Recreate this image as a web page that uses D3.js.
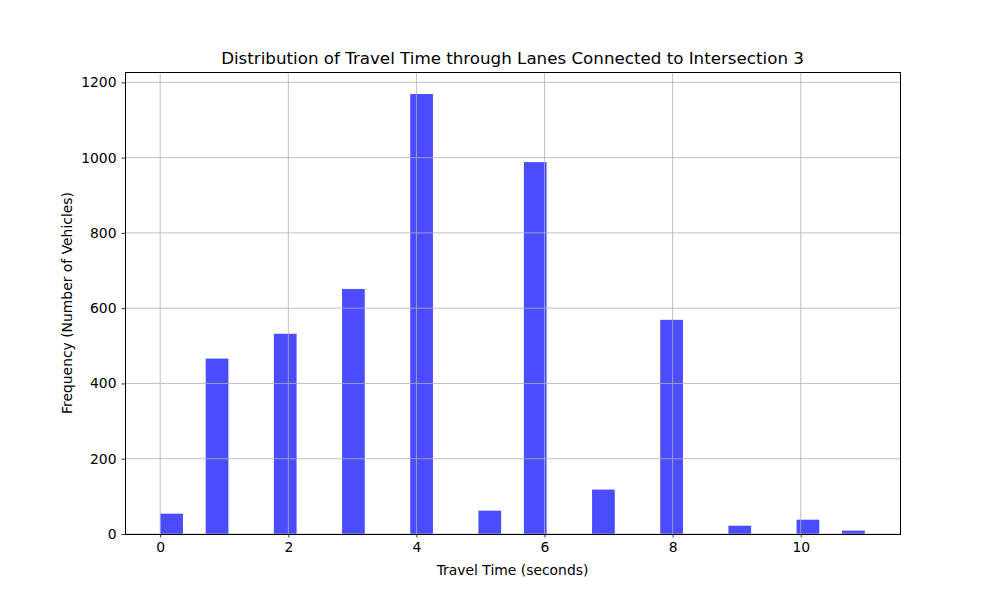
<!DOCTYPE html>
<html>
<head>
<meta charset="utf-8">
<script src="https://cdn.jsdelivr.net/npm/d3@7"></script>
<style>
  body { margin: 0; background: #fff; }
  text { font-family: "DejaVu Sans", sans-serif; fill: #000; }
</style>
</head>
<body>
<svg id="chart" width="1000" height="600"></svg>
<script>
// Travel times (seconds) and how many vehicles took each
const travelTimes = [0, 1, 2, 3, 4, 5, 6, 7, 8, 9, 10, 11];
const counts = [54, 466, 532, 651, 1169, 62, 988, 118, 569, 22, 38, 9];
const binCount = 31;
const xTicks = [0, 2, 4, 6, 8, 10];
const yTicks = [0, 200, 400, 600, 800, 1000, 1200];

const margin = { top: 72, right: 100, bottom: 66, left: 125 };
const width = 1000, height = 600;
const innerW = width - margin.left - margin.right;
const innerH = height - margin.top - margin.bottom;

const svg = d3.select("#chart");
const g = svg.append("g").attr("transform", `translate(${margin.left},${margin.top})`);

// Build histogram bins like matplotlib's hist
const lo = d3.min(travelTimes), hi = d3.max(travelTimes);
const binW = (hi - lo) / binCount;
const bins = d3.range(binCount).map(i => ({ x0: lo + i * binW, x1: lo + (i + 1) * binW, n: 0 }));
travelTimes.forEach((t, i) => {
    let k = Math.floor((t - lo) / binW);
    if (k >= binCount) k = binCount - 1;
    bins[k].n += counts[i];
});

const pad = (hi - lo) * 0.05;
const x = d3.scaleLinear().domain([lo - pad, hi + pad]).range([0, innerW]);
const yMax = d3.max(bins, d => d.n) * 1.05;
const y = d3.scaleLinear().domain([0, yMax]).range([innerH, 0]);

// Bars
g.append("g").selectAll("rect")
    .data(bins.filter(d => d.n > 0))
    .join("rect")
    .attr("x", d => x(d.x0))
    .attr("width", d => x(d.x1) - x(d.x0))
    .attr("y", d => y(d.n))
    .attr("height", d => y(0) - y(d.n))
    .attr("fill", "blue")
    .attr("fill-opacity", 0.7);

// Grid lines on top of the bars
const grid = g.append("g").attr("stroke", "#b0b0b0").attr("stroke-width", 0.8);
grid.selectAll(".gx").data(xTicks).join("line")
    .attr("x1", d => x(d)).attr("x2", d => x(d))
    .attr("y1", 0).attr("y2", innerH);
grid.selectAll(".gy").data(yTicks).join("line")
    .attr("x1", 0).attr("x2", innerW)
    .attr("y1", d => y(d)).attr("y2", d => y(d));

// Axes
const xAxis = g.append("g")
    .attr("transform", `translate(0,${innerH})`)
    .call(d3.axisBottom(x).tickValues(xTicks).tickSize(3.5).tickPadding(5).tickSizeOuter(0));
const yAxis = g.append("g")
    .call(d3.axisLeft(y).tickValues(yTicks).tickFormat(d3.format("d"))
        .tickSize(3.5).tickPadding(5).tickSizeOuter(0));
[xAxis, yAxis].forEach(a => {
    a.select(".domain").remove();
    a.selectAll("line").attr("stroke", "#000").attr("stroke-width", 0.8);
    a.selectAll("text").style("font-size", "13.9px").attr("fill", "#000");
});

// Frame
g.append("rect")
    .attr("width", innerW).attr("height", innerH)
    .attr("fill", "none").attr("stroke", "#000").attr("stroke-width", 1)
    .attr("shape-rendering", "crispEdges");

// Title and labels
svg.append("text")
    .attr("x", margin.left + innerW / 2).attr("y", margin.top - 8)
    .attr("text-anchor", "middle").style("font-size", "16.7px")
    .text("Distribution of Travel Time through Lanes Connected to Intersection 3");

svg.append("text")
    .attr("x", margin.left + innerW / 2).attr("y", 575)
    .attr("text-anchor", "middle").style("font-size", "13.9px")
    .text("Travel Time (seconds)");

svg.append("text")
    .attr("transform", `translate(72,${margin.top + innerH / 2}) rotate(-90)`)
    .attr("text-anchor", "middle").style("font-size", "13.9px")
    .text("Frequency (Number of Vehicles)");
</script>
</body>
</html>
